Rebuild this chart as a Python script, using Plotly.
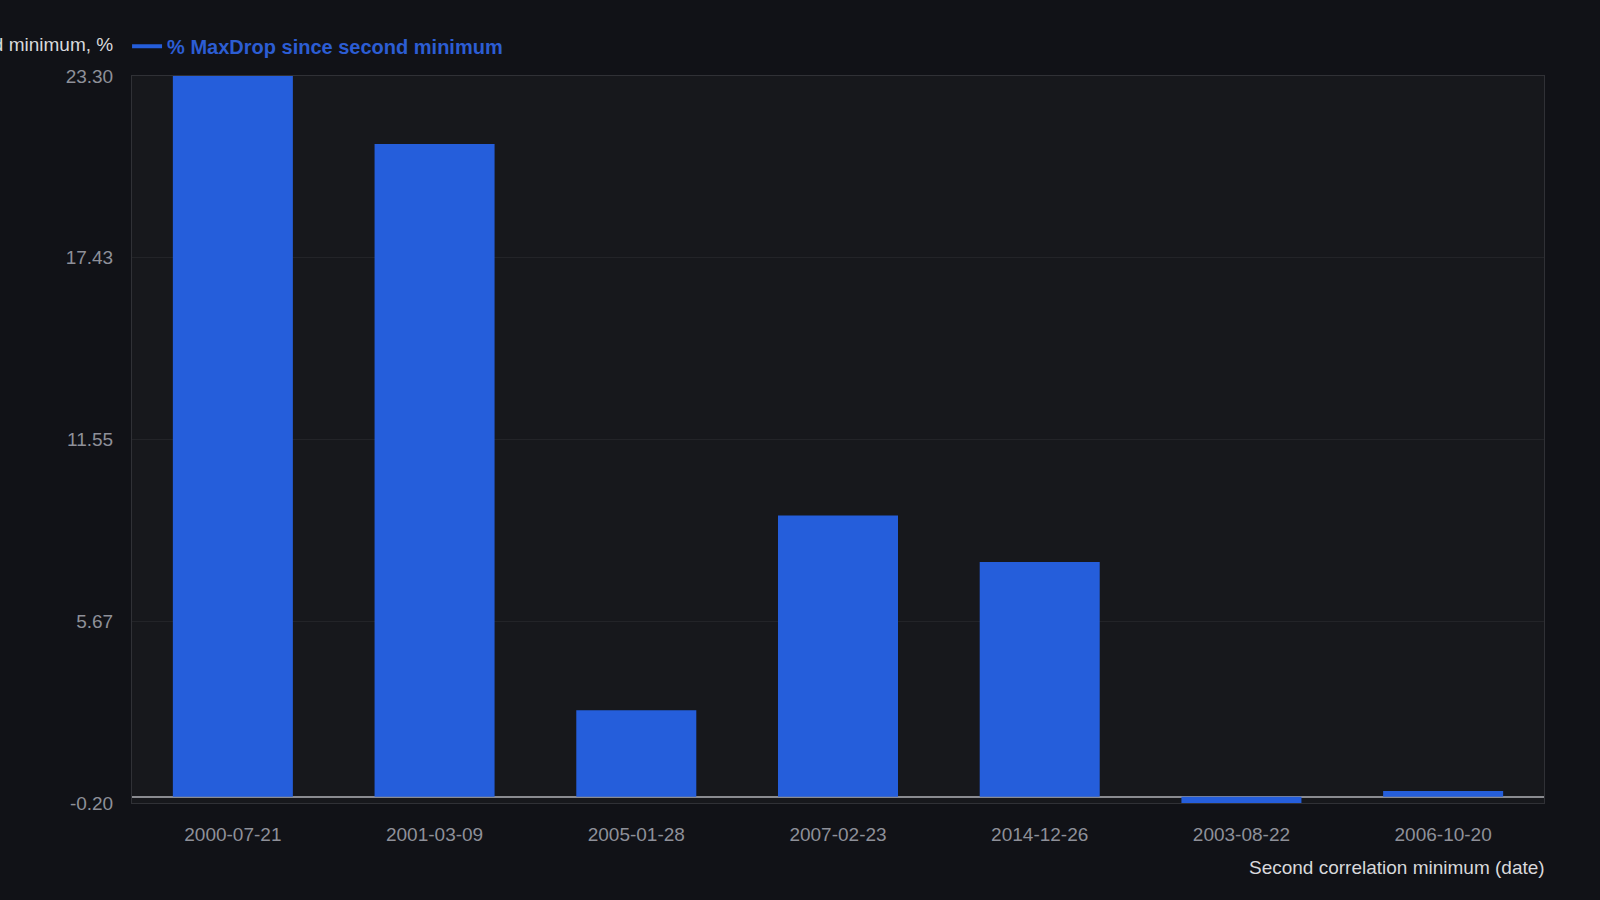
import plotly.graph_objects as go

categories = ["2000-07-21", "2001-03-09", "2005-01-28", "2007-02-23",
              "2014-12-26", "2003-08-22", "2006-10-20"]
max_drop = [23.30, 21.10, 2.80, 9.09, 7.59, -0.20, 0.19]

series_name = "% MaxDrop since second minimum"
y_title = "% MaxDrop since second minimum, %"
x_title = "Second correlation minimum (date)"
y_tickvals = [-0.20, 5.675, 11.55, 17.425, 23.30]
y_ticktext = ["-0.20", "5.67", "11.55", "17.43", "23.30"]
y_range = [-0.20, 23.30]

BLUE = "#255edb"
PAPER = "#111217"
PLOT = "#17181c"
GRID = "#232428"
TICK = "#8e9099"
TEXT = "#d8d9dc"
FONT = "Liberation Sans, Arial, sans-serif"

W, H = 1600, 900
L, R, T, B = 131.6, 56, 75.7, 96.5
plot_w = W - L - R
plot_h = H - T - B

fig = go.Figure()
fig.add_trace(go.Bar(
    x=categories, y=max_drop, name=series_name,
    marker=dict(color=BLUE, line=dict(width=0)),
    showlegend=False,
))
# legend entry drawn as a line symbol
fig.add_trace(go.Scatter(
    x=[None], y=[None], mode="lines", name=series_name,
    line=dict(color=BLUE, width=4), showlegend=True,
))

fig.update_layout(
    width=W, height=H, autosize=False,
    margin=dict(l=L, r=R, t=T, b=B, pad=0),
    paper_bgcolor=PAPER, plot_bgcolor=PLOT,
    font=dict(family=FONT, size=19, color=TICK),
    bargap=0.405,
    showlegend=True,
    legend=dict(
        orientation="h", xref="paper", yref="paper",
        x=-0.0035, xanchor="left", y=1 + (T - 46) / plot_h, yanchor="middle",
        bgcolor="rgba(0,0,0,0)",
        font=dict(family=FONT, size=20, color="#2c5dd3", weight="bold"),
        itemwidth=30,
    ),
    xaxis=dict(
        type="category", categoryorder="array", categoryarray=categories,
        showgrid=False, zeroline=False,
        showline=True, mirror=True, linecolor="#303136", linewidth=1,
        ticks="outside", ticklen=14, tickcolor="rgba(0,0,0,0)",
        tickfont=dict(family=FONT, size=19, color=TICK),
        fixedrange=True,
    ),
    yaxis=dict(
        range=y_range, tickvals=y_tickvals, ticktext=y_ticktext,
        showgrid=True, gridcolor=GRID, gridwidth=1,
        zeroline=True, zerolinecolor="#8a8b90", zerolinewidth=2,
        showline=True, mirror=True, linecolor="#303136", linewidth=1,
        ticks="outside", ticklen=14, tickcolor="rgba(0,0,0,0)",
        tickfont=dict(family=FONT, size=19, color=TICK),
        fixedrange=True,
    ),
    annotations=[
        dict(text=y_title, xref="paper", yref="paper",
             x=(115 - L) / plot_w, xanchor="right",
             y=1 + (T - 44) / plot_h, yanchor="middle",
             showarrow=False, font=dict(family=FONT, size=19, color=TEXT)),
        dict(text=x_title, xref="paper", yref="paper",
             x=1, xanchor="right", xshift=3,
             y=-(868 - (H - B)) / plot_h, yanchor="middle",
             showarrow=False, font=dict(family=FONT, size=19, color=TEXT)),
    ],
)

fig.write_html("out.html", config={"displayModeBar": False},
               post_script="document.body.style.margin='0';document.body.style.overflow='hidden';")
